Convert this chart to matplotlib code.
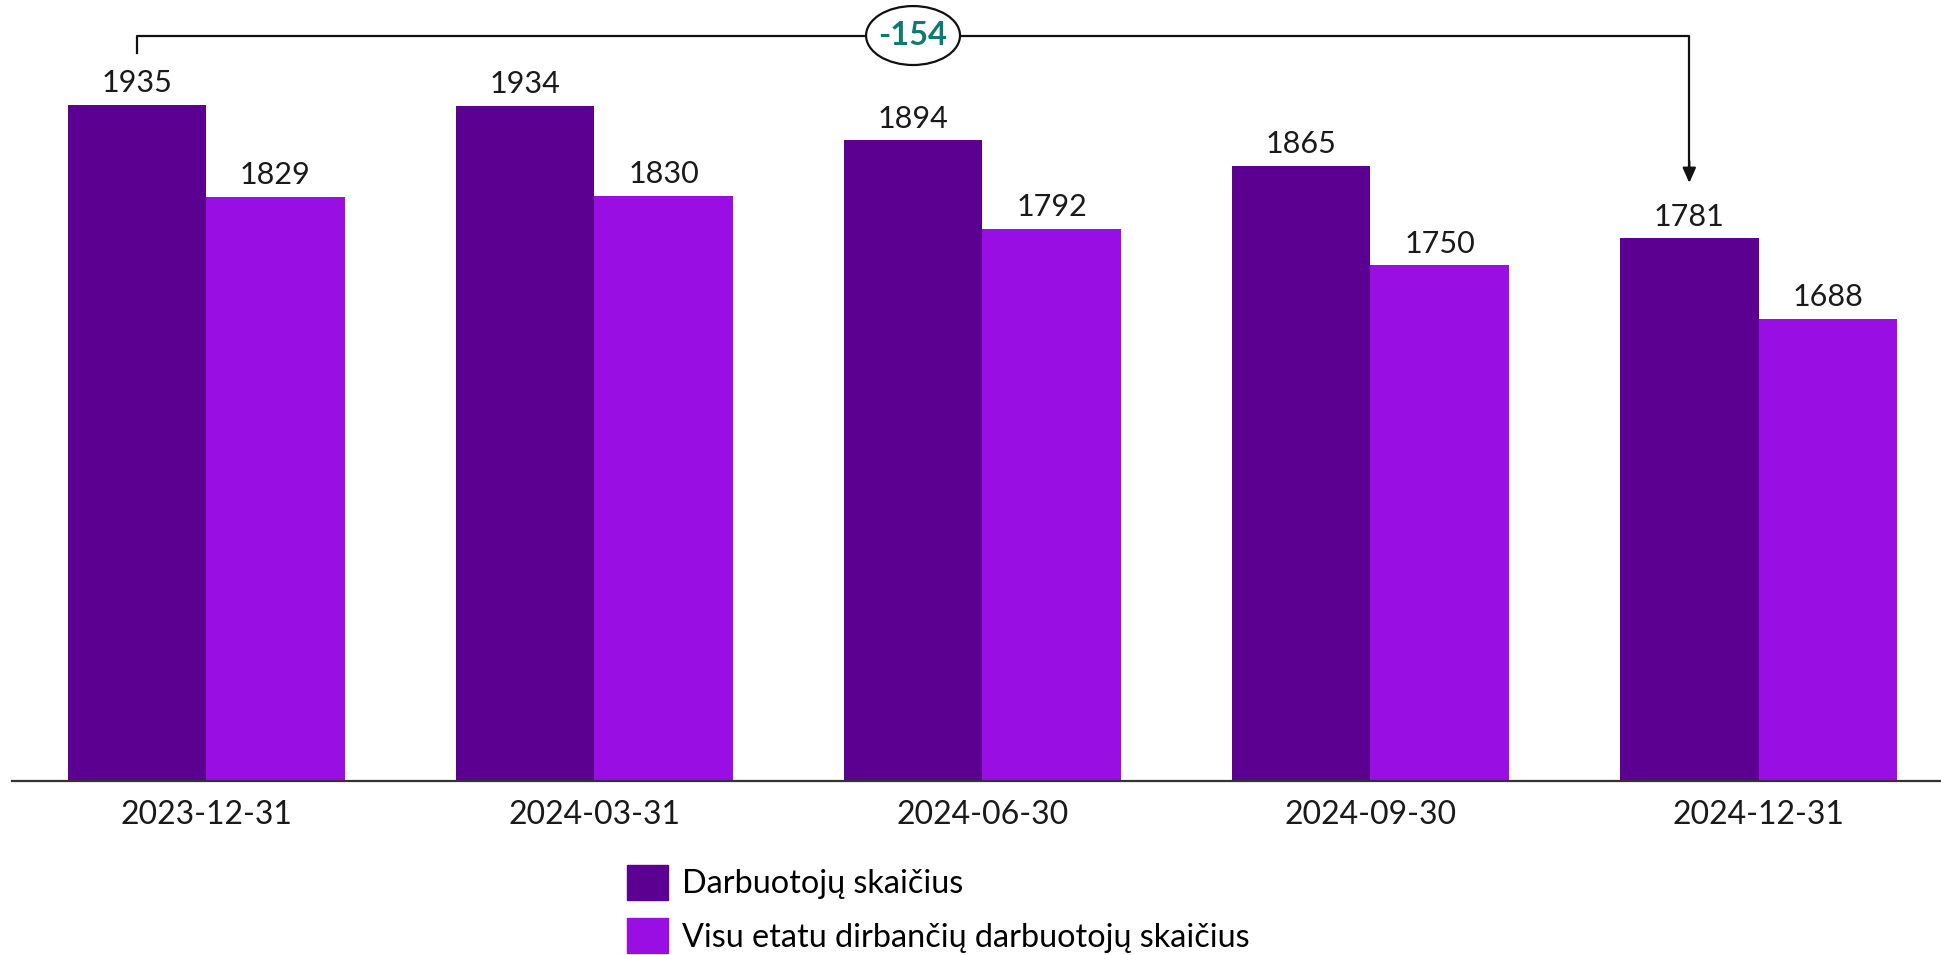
import matplotlib.pyplot as plt
from matplotlib.patches import Ellipse, Patch
import numpy as np

plt.rcParams['font.family'] = ['Lato', 'DejaVu Sans']

######################## Datos ########################
dates = ['2023-12-31', '2024-03-31', '2024-06-30', '2024-09-30', '2024-12-31']
employees = [1935, 1934, 1894, 1865, 1781]
full_time = [1829, 1830, 1792, 1750, 1688]
series_names = ['Darbuotojų skaičius', 'Visu etatu dirbančių darbuotojų skaičius']

dark = '#5c0091'
light = '#990ee3'
teal = '#0e7a72'

######################## Figura ########################
W, H = 1941, 955
fig = plt.figure(figsize=(W / 100, H / 100), dpi=100)
ax = fig.add_axes([12 / W, (H - 781) / H, 1 - 12 / W, 781 / H])

x = np.arange(len(dates))
w = 0.357

ax.bar(x - w / 2, employees, w, color=dark, zorder=2)
ax.bar(x + w / 2, full_time, w, color=light, zorder=2)

for xi, v in zip(x - w / 2, employees):
    ax.annotate(str(v), (xi, v), xytext=(0, 5.5), textcoords='offset points',
                ha='center', va='bottom', fontsize=22, color='#1a1a1a')
for xi, v in zip(x + w / 2, full_time):
    ax.annotate(str(v), (xi, v), xytext=(0, 5.5), textcoords='offset points',
                ha='center', va='bottom', fontsize=22, color='#1a1a1a')

ax.set_ylim(1155, 2056)
ax.set_xlim(-0.5, 4.47)
ax.set_xticks(x)
ax.set_xticklabels(dates, fontsize=23, color='#1a1a1a')
ax.tick_params(axis='x', length=0, pad=14)
ax.set_yticks([])
for s in ['left', 'right', 'top']:
    ax.spines[s].set_visible(False)
ax.spines['bottom'].set_color('#333333')
ax.spines['bottom'].set_linewidth(1.6)

######################## Flecha de diferencia ########################
x0 = x[0] - w / 2
x1 = x[-1] - w / 2
y_line = 2015
diff = employees[-1] - employees[0]

ax.plot([x0, x0, x1, x1], [1995, y_line, y_line, 1860], color='#111111',
        lw=1.6, clip_on=False, zorder=3)
ax.annotate('', xy=(x1, 1845), xytext=(x1, 1870),
            arrowprops=dict(arrowstyle='-|>,head_width=0.4,head_length=0.9',
                            color='#111111', lw=1.6, shrinkA=0, shrinkB=0))
mid = (x0 + x1) / 2
ax.add_patch(Ellipse((mid, y_line), 0.242, 68, facecolor='white',
                     edgecolor='#111111', lw=1.6, zorder=4, clip_on=False))
ax.text(mid, y_line, f'{diff}', ha='center', va='center', fontsize=23.5,
        fontweight='bold', color=teal, zorder=5)

######################## Leyenda ########################
handles = [Patch(color=dark), Patch(color=light)]
fig.legend(handles, series_names, loc='upper left',
           bbox_to_anchor=(627 / W, 1 - 865 / H), frameon=False, fontsize=23.3,
           handlelength=1.27, handleheight=1.27, handletextpad=0.42,
           labelspacing=0.58, borderpad=0, borderaxespad=0)

fig.savefig('out.png', dpi=100)
